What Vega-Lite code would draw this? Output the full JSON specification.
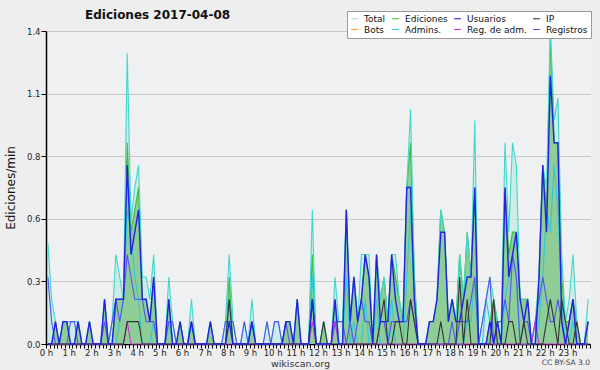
{
"$schema": "https://vega.github.io/schema/vega-lite/v6.json",
"width": 544, "height": 313,
"autosize": {"type": "none"},
"padding": {"left": 46, "top": 31, "right": 10, "bottom": 26},
"background": "#eeeeee",
"title": {"text": "Ediciones  2017-04-08", "anchor": "start", "frame": "group", "dx": 39, "offset": -11, "fontSize": 12, "font": "DejaVu Sans", "fontWeight": "bold", "color": "#111111"},
"config": {
  "view": {"fill": "#eef0f1", "stroke": null},
  "font": "DejaVu Sans",
  "line": {"strokeWidth": 1.1, "clip": true},
  "area": {"clip": true}
},
"datasets": {"d": [
{"min":5,"tot":0.45,"edi":0,"usu":0,"ip":0,"reg":0.3,"adm":0,"rad":0},
{"min":15,"tot":0.2,"edi":0,"usu":0,"ip":0,"reg":0.1,"adm":0,"rad":0},
{"min":25,"tot":0.1,"edi":0.1,"usu":0.1,"ip":0,"reg":0,"adm":0,"rad":0},
{"min":35,"tot":0,"edi":0,"usu":0,"ip":0,"reg":0,"adm":0,"rad":0},
{"min":45,"tot":0.1,"edi":0.1,"usu":0.1,"ip":0,"reg":0,"adm":0,"rad":0},
{"min":55,"tot":0.1,"edi":0.1,"usu":0.1,"ip":0,"reg":0,"adm":0,"rad":0},
{"min":65,"tot":0.1,"edi":0,"usu":0,"ip":0,"reg":0.1,"adm":0,"rad":0},
{"min":75,"tot":0.1,"edi":0,"usu":0,"ip":0,"reg":0.1,"adm":0,"rad":0},
{"min":85,"tot":0.1,"edi":0.1,"usu":0.1,"ip":0,"reg":0,"adm":0,"rad":0},
{"min":95,"tot":0,"edi":0,"usu":0,"ip":0,"reg":0,"adm":0,"rad":0},
{"min":105,"tot":0,"edi":0,"usu":0,"ip":0,"reg":0,"adm":0,"rad":0},
{"min":115,"tot":0.1,"edi":0.1,"usu":0.1,"ip":0,"reg":0,"adm":0,"rad":0},
{"min":125,"tot":0,"edi":0,"usu":0,"ip":0,"reg":0,"adm":0,"rad":0},
{"min":135,"tot":0,"edi":0,"usu":0,"ip":0,"reg":0,"adm":0,"rad":0},
{"min":145,"tot":0,"edi":0,"usu":0,"ip":0,"reg":0,"adm":0,"rad":0},
{"min":155,"tot":0.2,"edi":0.2,"usu":0.2,"ip":0,"reg":0.1,"adm":0,"rad":0},
{"min":165,"tot":0,"edi":0,"usu":0,"ip":0,"reg":0,"adm":0,"rad":0},
{"min":175,"tot":0.1,"edi":0,"usu":0,"ip":0,"reg":0.1,"adm":0,"rad":0},
{"min":185,"tot":0.4,"edi":0.2,"usu":0.2,"ip":0,"reg":0.2,"adm":0,"rad":0},
{"min":195,"tot":0.3,"edi":0.2,"usu":0.2,"ip":0,"reg":0.1,"adm":0.1,"rad":0},
{"min":205,"tot":0.2,"edi":0.2,"usu":0.2,"ip":0,"reg":0.2,"adm":0.2,"rad":0},
{"min":215,"tot":1.3,"edi":0.9,"usu":0.8,"ip":0.1,"reg":0.4,"adm":0.6,"rad":0.1},
{"min":225,"tot":0.55,"edi":0.5,"usu":0.4,"ip":0.1,"reg":0.3,"adm":0.5,"rad":0},
{"min":235,"tot":0.7,"edi":0.6,"usu":0.5,"ip":0.1,"reg":0.2,"adm":0.3,"rad":0},
{"min":245,"tot":0.8,"edi":0.7,"usu":0.6,"ip":0.1,"reg":0.2,"adm":0.2,"rad":0},
{"min":255,"tot":0.3,"edi":0.2,"usu":0.2,"ip":0,"reg":0.2,"adm":0,"rad":0},
{"min":265,"tot":0.3,"edi":0.2,"usu":0.2,"ip":0,"reg":0.1,"adm":0,"rad":0},
{"min":275,"tot":0.2,"edi":0.1,"usu":0.1,"ip":0,"reg":0.1,"adm":0,"rad":0},
{"min":285,"tot":0.4,"edi":0.3,"usu":0.3,"ip":0,"reg":0.1,"adm":0.1,"rad":0},
{"min":295,"tot":0,"edi":0,"usu":0,"ip":0,"reg":0,"adm":0,"rad":0},
{"min":305,"tot":0,"edi":0,"usu":0,"ip":0,"reg":0,"adm":0,"rad":0},
{"min":315,"tot":0,"edi":0,"usu":0,"ip":0,"reg":0,"adm":0,"rad":0},
{"min":325,"tot":0.3,"edi":0.2,"usu":0.2,"ip":0,"reg":0.1,"adm":0.1,"rad":0},
{"min":335,"tot":0.1,"edi":0,"usu":0,"ip":0,"reg":0.1,"adm":0,"rad":0},
{"min":345,"tot":0,"edi":0,"usu":0,"ip":0,"reg":0,"adm":0,"rad":0},
{"min":355,"tot":0.1,"edi":0.1,"usu":0.1,"ip":0,"reg":0,"adm":0,"rad":0},
{"min":365,"tot":0,"edi":0,"usu":0,"ip":0,"reg":0,"adm":0,"rad":0},
{"min":375,"tot":0,"edi":0,"usu":0,"ip":0,"reg":0,"adm":0,"rad":0},
{"min":385,"tot":0.2,"edi":0.1,"usu":0.1,"ip":0,"reg":0.1,"adm":0.1,"rad":0},
{"min":395,"tot":0,"edi":0,"usu":0,"ip":0,"reg":0,"adm":0,"rad":0},
{"min":405,"tot":0,"edi":0,"usu":0,"ip":0,"reg":0,"adm":0,"rad":0},
{"min":415,"tot":0,"edi":0,"usu":0,"ip":0,"reg":0,"adm":0,"rad":0},
{"min":425,"tot":0,"edi":0,"usu":0,"ip":0,"reg":0,"adm":0,"rad":0},
{"min":435,"tot":0.1,"edi":0.1,"usu":0.1,"ip":0,"reg":0,"adm":0,"rad":0},
{"min":445,"tot":0,"edi":0,"usu":0,"ip":0,"reg":0,"adm":0,"rad":0},
{"min":455,"tot":0,"edi":0,"usu":0,"ip":0,"reg":0,"adm":0,"rad":0},
{"min":465,"tot":0,"edi":0,"usu":0,"ip":0,"reg":0,"adm":0,"rad":0},
{"min":475,"tot":0.1,"edi":0,"usu":0,"ip":0,"reg":0.1,"adm":0,"rad":0},
{"min":485,"tot":0.4,"edi":0.3,"usu":0.1,"ip":0.2,"reg":0.1,"adm":0.2,"rad":0},
{"min":495,"tot":0.1,"edi":0,"usu":0,"ip":0,"reg":0.1,"adm":0,"rad":0},
{"min":505,"tot":0,"edi":0,"usu":0,"ip":0,"reg":0,"adm":0,"rad":0},
{"min":515,"tot":0,"edi":0,"usu":0,"ip":0,"reg":0,"adm":0,"rad":0},
{"min":525,"tot":0.1,"edi":0,"usu":0,"ip":0,"reg":0.1,"adm":0,"rad":0},
{"min":535,"tot":0,"edi":0,"usu":0,"ip":0,"reg":0,"adm":0,"rad":0},
{"min":545,"tot":0.2,"edi":0.1,"usu":0.1,"ip":0,"reg":0.1,"adm":0.1,"rad":0},
{"min":555,"tot":0,"edi":0,"usu":0,"ip":0,"reg":0,"adm":0,"rad":0},
{"min":565,"tot":0,"edi":0,"usu":0,"ip":0,"reg":0,"adm":0,"rad":0},
{"min":575,"tot":0,"edi":0,"usu":0,"ip":0,"reg":0,"adm":0,"rad":0},
{"min":585,"tot":0.1,"edi":0,"usu":0,"ip":0,"reg":0.1,"adm":0,"rad":0},
{"min":595,"tot":0,"edi":0,"usu":0,"ip":0,"reg":0,"adm":0,"rad":0},
{"min":605,"tot":0.1,"edi":0,"usu":0,"ip":0,"reg":0.1,"adm":0,"rad":0},
{"min":615,"tot":0.1,"edi":0,"usu":0,"ip":0,"reg":0.1,"adm":0,"rad":0},
{"min":625,"tot":0,"edi":0,"usu":0,"ip":0,"reg":0,"adm":0,"rad":0},
{"min":635,"tot":0.1,"edi":0.1,"usu":0.1,"ip":0,"reg":0.1,"adm":0,"rad":0},
{"min":645,"tot":0.1,"edi":0.1,"usu":0.1,"ip":0,"reg":0,"adm":0,"rad":0},
{"min":655,"tot":0,"edi":0,"usu":0,"ip":0,"reg":0,"adm":0,"rad":0},
{"min":665,"tot":0.2,"edi":0.2,"usu":0.2,"ip":0,"reg":0,"adm":0,"rad":0},
{"min":675,"tot":0,"edi":0,"usu":0,"ip":0,"reg":0,"adm":0,"rad":0},
{"min":685,"tot":0,"edi":0,"usu":0,"ip":0,"reg":0,"adm":0,"rad":0},
{"min":695,"tot":0,"edi":0,"usu":0,"ip":0,"reg":0,"adm":0,"rad":0},
{"min":705,"tot":0.6,"edi":0.4,"usu":0.2,"ip":0.2,"reg":0.2,"adm":0.3,"rad":0.1},
{"min":715,"tot":0,"edi":0,"usu":0,"ip":0,"reg":0,"adm":0,"rad":0},
{"min":725,"tot":0,"edi":0,"usu":0,"ip":0,"reg":0,"adm":0,"rad":0},
{"min":735,"tot":0.1,"edi":0.1,"usu":0,"ip":0.1,"reg":0,"adm":0,"rad":0},
{"min":745,"tot":0,"edi":0,"usu":0,"ip":0,"reg":0,"adm":0,"rad":0},
{"min":755,"tot":0,"edi":0,"usu":0,"ip":0,"reg":0,"adm":0,"rad":0},
{"min":765,"tot":0.3,"edi":0.2,"usu":0.2,"ip":0,"reg":0.1,"adm":0.1,"rad":0.1},
{"min":775,"tot":0.1,"edi":0,"usu":0,"ip":0,"reg":0.1,"adm":0,"rad":0},
{"min":785,"tot":0.1,"edi":0,"usu":0,"ip":0,"reg":0.1,"adm":0,"rad":0},
{"min":795,"tot":0.6,"edi":0.6,"usu":0.6,"ip":0,"reg":0,"adm":0.3,"rad":0},
{"min":805,"tot":0.1,"edi":0.1,"usu":0.1,"ip":0,"reg":0.1,"adm":0,"rad":0},
{"min":815,"tot":0.3,"edi":0.3,"usu":0.3,"ip":0,"reg":0,"adm":0.1,"rad":0},
{"min":825,"tot":0.1,"edi":0.1,"usu":0.1,"ip":0,"reg":0.1,"adm":0,"rad":0},
{"min":835,"tot":0.4,"edi":0.2,"usu":0.2,"ip":0,"reg":0.2,"adm":0,"rad":0},
{"min":845,"tot":0.4,"edi":0.4,"usu":0.4,"ip":0,"reg":0.1,"adm":0.2,"rad":0},
{"min":855,"tot":0.4,"edi":0.3,"usu":0.3,"ip":0,"reg":0.1,"adm":0,"rad":0},
{"min":865,"tot":0,"edi":0,"usu":0,"ip":0,"reg":0,"adm":0,"rad":0},
{"min":875,"tot":0.4,"edi":0.4,"usu":0.4,"ip":0,"reg":0,"adm":0.2,"rad":0},
{"min":885,"tot":0.2,"edi":0.2,"usu":0.1,"ip":0.1,"reg":0.1,"adm":0,"rad":0},
{"min":895,"tot":0.3,"edi":0.3,"usu":0.1,"ip":0.2,"reg":0.1,"adm":0,"rad":0},
{"min":905,"tot":0.1,"edi":0.1,"usu":0.1,"ip":0,"reg":0,"adm":0,"rad":0},
{"min":915,"tot":0.4,"edi":0.4,"usu":0.4,"ip":0,"reg":0.1,"adm":0.2,"rad":0},
{"min":925,"tot":0.4,"edi":0.3,"usu":0.2,"ip":0.1,"reg":0.1,"adm":0,"rad":0},
{"min":935,"tot":0.2,"edi":0.2,"usu":0.1,"ip":0.1,"reg":0.1,"adm":0,"rad":0},
{"min":945,"tot":0.1,"edi":0.1,"usu":0.1,"ip":0,"reg":0.1,"adm":0,"rad":0},
{"min":955,"tot":0.7,"edi":0.7,"usu":0.7,"ip":0,"reg":0.1,"adm":0.3,"rad":0},
{"min":965,"tot":1.05,"edi":0.9,"usu":0.7,"ip":0.2,"reg":0.2,"adm":0.6,"rad":0},
{"min":975,"tot":0.3,"edi":0.3,"usu":0.2,"ip":0.1,"reg":0.1,"adm":0.2,"rad":0},
{"min":985,"tot":0,"edi":0,"usu":0,"ip":0,"reg":0,"adm":0,"rad":0},
{"min":995,"tot":0,"edi":0,"usu":0,"ip":0,"reg":0,"adm":0,"rad":0},
{"min":1005,"tot":0,"edi":0,"usu":0,"ip":0,"reg":0,"adm":0,"rad":0},
{"min":1015,"tot":0.1,"edi":0.1,"usu":0.1,"ip":0,"reg":0,"adm":0,"rad":0},
{"min":1025,"tot":0.1,"edi":0.1,"usu":0.1,"ip":0,"reg":0,"adm":0,"rad":0},
{"min":1035,"tot":0.2,"edi":0.2,"usu":0.2,"ip":0,"reg":0,"adm":0,"rad":0},
{"min":1045,"tot":0.6,"edi":0.6,"usu":0.5,"ip":0.1,"reg":0,"adm":0,"rad":0},
{"min":1055,"tot":0.5,"edi":0.5,"usu":0.5,"ip":0,"reg":0,"adm":0,"rad":0},
{"min":1065,"tot":0.1,"edi":0.1,"usu":0.1,"ip":0,"reg":0,"adm":0,"rad":0},
{"min":1075,"tot":0.2,"edi":0.2,"usu":0.2,"ip":0,"reg":0.1,"adm":0,"rad":0},
{"min":1085,"tot":0.1,"edi":0.1,"usu":0.1,"ip":0,"reg":0,"adm":0,"rad":0},
{"min":1095,"tot":0.4,"edi":0.4,"usu":0.1,"ip":0.3,"reg":0.1,"adm":0,"rad":0},
{"min":1105,"tot":0.2,"edi":0.2,"usu":0.2,"ip":0,"reg":0.1,"adm":0,"rad":0},
{"min":1115,"tot":0.5,"edi":0.5,"usu":0.3,"ip":0.2,"reg":0.1,"adm":0.1,"rad":0},
{"min":1125,"tot":0.3,"edi":0.3,"usu":0.3,"ip":0,"reg":0.2,"adm":0.1,"rad":0},
{"min":1135,"tot":1.0,"edi":0.7,"usu":0.7,"ip":0,"reg":0.3,"adm":0.3,"rad":0},
{"min":1145,"tot":0,"edi":0,"usu":0,"ip":0,"reg":0,"adm":0,"rad":0},
{"min":1155,"tot":0.1,"edi":0,"usu":0,"ip":0,"reg":0.1,"adm":0,"rad":0},
{"min":1165,"tot":0.2,"edi":0,"usu":0,"ip":0,"reg":0.2,"adm":0.2,"rad":0},
{"min":1175,"tot":0.3,"edi":0.1,"usu":0.1,"ip":0,"reg":0.3,"adm":0.1,"rad":0},
{"min":1185,"tot":0.2,"edi":0.2,"usu":0,"ip":0.2,"reg":0,"adm":0,"rad":0},
{"min":1195,"tot":0.1,"edi":0.1,"usu":0.1,"ip":0,"reg":0.1,"adm":0,"rad":0},
{"min":1205,"tot":0.1,"edi":0,"usu":0,"ip":0,"reg":0.1,"adm":0,"rad":0},
{"min":1215,"tot":0.9,"edi":0.7,"usu":0.7,"ip":0,"reg":0.2,"adm":0.2,"rad":0},
{"min":1225,"tot":0.5,"edi":0.4,"usu":0.3,"ip":0.1,"reg":0.1,"adm":0.3,"rad":0},
{"min":1235,"tot":0.9,"edi":0.5,"usu":0.4,"ip":0.1,"reg":0.4,"adm":0.4,"rad":0},
{"min":1245,"tot":0.8,"edi":0.5,"usu":0.5,"ip":0,"reg":0.3,"adm":0.3,"rad":0},
{"min":1255,"tot":0.2,"edi":0.2,"usu":0.2,"ip":0,"reg":0,"adm":0,"rad":0},
{"min":1265,"tot":0.2,"edi":0.2,"usu":0.1,"ip":0.1,"reg":0.1,"adm":0,"rad":0},
{"min":1275,"tot":0.2,"edi":0.2,"usu":0.2,"ip":0,"reg":0.1,"adm":0,"rad":0},
{"min":1285,"tot":0,"edi":0,"usu":0,"ip":0,"reg":0,"adm":0,"rad":0},
{"min":1295,"tot":0.1,"edi":0,"usu":0,"ip":0,"reg":0.1,"adm":0,"rad":0.1},
{"min":1305,"tot":0.3,"edi":0.3,"usu":0.3,"ip":0,"reg":0.2,"adm":0.1,"rad":0},
{"min":1315,"tot":0.8,"edi":0.8,"usu":0.8,"ip":0,"reg":0.3,"adm":0.3,"rad":0},
{"min":1325,"tot":0.7,"edi":0.6,"usu":0.5,"ip":0.1,"reg":0.2,"adm":0.6,"rad":0},
{"min":1335,"tot":1.42,"edi":1.38,"usu":1.2,"ip":0.2,"reg":0.1,"adm":0.5,"rad":0},
{"min":1345,"tot":1.0,"edi":0.9,"usu":0.9,"ip":0.1,"reg":0.1,"adm":0.8,"rad":0},
{"min":1355,"tot":1.1,"edi":0.9,"usu":0.9,"ip":0,"reg":0.2,"adm":0.6,"rad":0},
{"min":1365,"tot":0.4,"edi":0.3,"usu":0.1,"ip":0.2,"reg":0.1,"adm":0.2,"rad":0},
{"min":1375,"tot":0.1,"edi":0.1,"usu":0,"ip":0.1,"reg":0,"adm":0,"rad":0},
{"min":1385,"tot":0.2,"edi":0.1,"usu":0.1,"ip":0,"reg":0.1,"adm":0,"rad":0},
{"min":1395,"tot":0.4,"edi":0.2,"usu":0.2,"ip":0,"reg":0.2,"adm":0.1,"rad":0},
{"min":1405,"tot":0.1,"edi":0.1,"usu":0,"ip":0.1,"reg":0,"adm":0,"rad":0},
{"min":1415,"tot":0,"edi":0,"usu":0,"ip":0,"reg":0,"adm":0,"rad":0},
{"min":1425,"tot":0,"edi":0,"usu":0,"ip":0,"reg":0,"adm":0,"rad":0},
{"min":1435,"tot":0.2,"edi":0.1,"usu":0.1,"ip":0,"reg":0.1,"adm":0,"rad":0}
]},
"data": {"name": "d"},
"encoding": {
  "x": {"field": "min", "type": "quantitative", "scale": {"domain": [0, 1440], "nice": false, "zero": false},
    "axis": {
      "values": [0,10,20,30,40,50,60,70,80,90,100,110,120,130,140,150,160,170,180,190,200,210,220,230,240,250,260,270,280,290,300,310,320,330,340,350,360,370,380,390,400,410,420,430,440,450,460,470,480,490,500,510,520,530,540,550,560,570,580,590,600,610,620,630,640,650,660,670,680,690,700,710,720,730,740,750,760,770,780,790,800,810,820,830,840,850,860,870,880,890,900,910,920,930,940,950,960,970,980,990,1000,1010,1020,1030,1040,1050,1060,1070,1080,1090,1100,1110,1120,1130,1140,1150,1160,1170,1180,1190,1200,1210,1220,1230,1240,1250,1260,1270,1280,1290,1300,1310,1320,1330,1340,1350,1360,1370,1380,1390,1400,1410,1420,1430,1440],
      "labelExpr": "(datum.value % 60 == 0 && datum.value < 1440) ? (datum.value / 60) + ' h' : ''",
      "labelOverlap": false, "labelFlush": false, "labelFontSize": 8.5, "labelColor": "#222222", "labelPadding": 0,
      "tickSize": 4, "tickColor": "#000000", "domainColor": "#000000", "domainWidth": 1.5, "grid": false,
      "title": "wikiscan.org", "titleFontSize": 9.5, "titleFontWeight": "normal", "titleColor": "#333333", "titleX": 254, "titleY": 19, "titleBaseline": "middle"
    }}
},
"layer": [
  {"mark": {"type": "area", "color": "#c4ebe6", "opacity": 0.8},
   "encoding": {"y": {"field": "tot", "type": "quantitative", "scale": {"domain": [0, 1.4], "nice": false},
     "axis": {
       "values": [0,0.07,0.14,0.21,0.28,0.35,0.42,0.49,0.56,0.63,0.7,0.77,0.84,0.91,0.98,1.05,1.12,1.19,1.26,1.33,1.4],
       "labelExpr": "abs(datum.value/0.28 - round(datum.value/0.28)) < 0.01 ? format(datum.value, '.1f') : ''",
       "gridOpacity": {"condition": {"test": "abs(datum.value/0.28 - round(datum.value/0.28)) < 0.01 && datum.value > 0", "value": 1}, "value": 0},
       "gridColor": "#c8c8c8", "labelOverlap": false, "labelFontSize": 8.5, "labelColor": "#222222", "labelPadding": 1,
       "tickSize": 5, "tickColor": "#000000", "domainColor": "#000000", "domainWidth": 1.5,
       "title": "Ediciones/min", "titleFontSize": 12, "titleFontWeight": "normal", "titleColor": "#111111", "titlePadding": 9
     }}}},
  {"mark": {"type": "area", "color": "#77c077", "opacity": 0.72},
   "encoding": {"y": {"field": "edi", "type": "quantitative", "scale": {"domain": [0, 1.4], "nice": false}}}},
  {"mark": {"type": "line", "strokeWidth": 1.2},
   "encoding": {"y": {"field": "edi", "type": "quantitative", "scale": {"domain": [0, 1.4], "nice": false}},
     "color": {"datum": "edi", "type": "nominal",
       "scale": {"domain": ["tot","edi","usu","ip","bot","adm","rad","reg"], "range": ["#aadfdd","#44bb44","#2222e0","#333333","#ff9933","#30c8dc","#cc33cc","#5555ee"]},
       "legend": {"orient": "none", "legendX": 301, "legendY": -20, "columns": 4, "direction": "horizontal", "title": null,
         "fillColor": "#ffffff", "strokeColor": "#999999", "padding": 3, "columnPadding": 3, "rowPadding": 1,
         "symbolType": "stroke", "symbolSize": 45, "symbolStrokeWidth": 1.5, "labelFontSize": 9, "labelColor": "#111111", "labelOffset": 5,
         "labelExpr": "datum.value=='tot'?'Total':datum.value=='edi'?'Ediciones':datum.value=='usu'?'Usuarios':datum.value=='ip'?'IP':datum.value=='bot'?'Bots':datum.value=='adm'?'Admins.':datum.value=='rad'?'Reg. de adm.':'Registros'"}}}},
  {"mark": {"type": "line", "color": "#40d8cc", "strokeWidth": 1.1},
   "encoding": {"y": {"field": "tot", "type": "quantitative", "scale": {"domain": [0, 1.4], "nice": false}}}},
  {"mark": {"type": "line"},
   "encoding": {"y": {"field": "adm", "type": "quantitative", "scale": {"domain": [0, 1.4], "nice": false}},
     "color": {"datum": "adm", "type": "nominal"}}},
  {"mark": {"type": "line"},
   "encoding": {"y": {"field": "reg", "type": "quantitative", "scale": {"domain": [0, 1.4], "nice": false}},
     "color": {"datum": "reg", "type": "nominal"}}},
  {"mark": {"type": "line"},
   "encoding": {"y": {"field": "rad", "type": "quantitative", "scale": {"domain": [0, 1.4], "nice": false}},
     "color": {"datum": "rad", "type": "nominal"}}},
  {"mark": {"type": "line"},
   "encoding": {"y": {"field": "ip", "type": "quantitative", "scale": {"domain": [0, 1.4], "nice": false}},
     "color": {"datum": "ip", "type": "nominal"}}},
  {"mark": {"type": "line", "strokeWidth": 1.4},
   "encoding": {"y": {"field": "usu", "type": "quantitative", "scale": {"domain": [0, 1.4], "nice": false}},
     "color": {"datum": "usu", "type": "nominal"}}},
  {"data": {"values": [{"min": 1440, "v": 0, "lic": "CC BY-SA 3.0"}]},
   "mark": {"type": "text", "align": "right", "baseline": "middle", "dy": 19, "fontSize": 7.5, "color": "#444444", "clip": false},
   "encoding": {"y": {"field": "v", "type": "quantitative", "scale": {"domain": [0, 1.4], "nice": false}}, "text": {"field": "lic", "type": "nominal"}}}
]
}
